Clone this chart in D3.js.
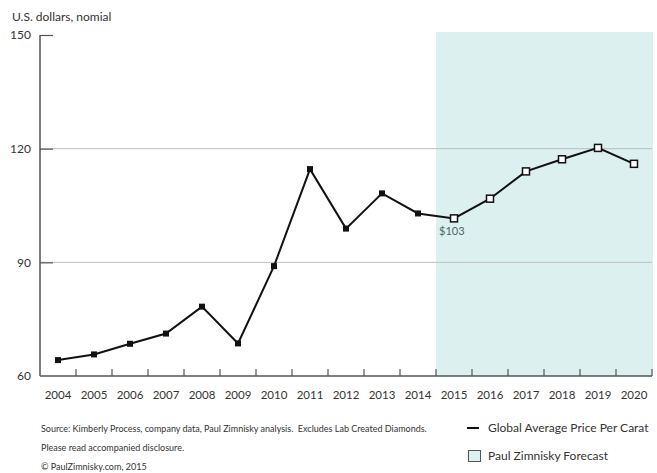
<!DOCTYPE html>
<html><head><meta charset="utf-8">
<script src="https://cdn.jsdelivr.net/npm/d3@7"></script>
<style>body{margin:0;background:#fff}svg{display:block;font-family:Lato,"Open Sans",sans-serif}</style>
</head><body><svg id="c" width="657" height="473"></svg>
<script>
const years = ["2004","2005","2006","2007","2008","2009","2010","2011","2012","2013","2014","2015","2016","2017","2018","2019","2020"];
const prices = [64.2,65.7,68.5,71.2,78.3,68.6,89.0,114.6,98.9,108.2,102.9,101.6,106.8,114.0,117.2,120.2,116.0];
const forecastStart = "2015";
const yTicks = [60,90,120,150];
const gridValues = [90,120];
const annotation = {year:"2015", text:"$103"};

const svg = d3.select("#c");
const L=40,R=652,T=35,B=376;
const x = d3.scaleBand().domain(years).range([L,R]).padding(0);
const y = d3.scaleLinear().domain([60,150]).range([B,T]);
const cx = d=>x(d)+x.bandwidth()/2;

// forecast band
const fi = years.indexOf(forecastStart);
svg.append("rect").attr("x",x(forecastStart)).attr("y",T-3)
  .attr("width",R+1-x(forecastStart)).attr("height",B-T+3).attr("fill","#dcf0f0");

// gridlines
svg.selectAll(".grid").data(gridValues).enter().append("line")
  .attr("x1",L).attr("x2",R).attr("y1",d=>y(d)).attr("y2",d=>y(d))
  .attr("stroke","#bdbdbd").attr("stroke-width",1);

// y axis
const yAxis = d3.axisLeft(y).tickValues(yTicks).tickSize(-13).tickPadding(9).tickFormat(d3.format("d"));
const gy = svg.append("g").attr("transform",`translate(${L},0)`).call(yAxis);
gy.select(".domain").attr("stroke","#555").attr("stroke-width",1.5).attr("d",`M0,${B}V${T}`);
gy.selectAll(".tick line").attr("stroke","#555").attr("stroke-width",1.2);
gy.selectAll(".tick").filter(d=>d===60).select("line").remove();
gy.selectAll("text").attr("font-size",12).attr("fill","#333").attr("font-family","Lato");

// x axis
const xAxis = d3.axisBottom(x).tickSize(0).tickPadding(15);
const gx = svg.append("g").attr("transform",`translate(0,${B})`).call(xAxis);
gx.select(".domain").attr("stroke","#555").attr("stroke-width",1.5).attr("d",`M${L},0H${R}`);
gx.selectAll("text").attr("font-size",11.5).attr("fill","#333").attr("font-family","Lato");
// boundary ticks
svg.selectAll(".xt").data(years).enter().append("line")
  .attr("x1",d=>x(d)+x.bandwidth()).attr("x2",d=>x(d)+x.bandwidth())
  .attr("y1",B).attr("y2",B-7).attr("stroke","#555").attr("stroke-width",1.2);

// line
const data = years.map((yr,i)=>({yr,v:prices[i],f:i>=fi}));
svg.append("path").datum(data)
  .attr("d",d3.line().x(d=>cx(d.yr)).y(d=>y(d.v)))
  .attr("fill","none").attr("stroke","#111").attr("stroke-width",2);

// markers
svg.selectAll(".hm").data(data.filter(d=>!d.f)).enter().append("rect")
  .attr("x",d=>cx(d.yr)-3).attr("y",d=>y(d.v)-3).attr("width",6).attr("height",6).attr("fill","#111");
svg.selectAll(".fm").data(data.filter(d=>d.f)).enter().append("rect")
  .attr("x",d=>cx(d.yr)-3.5).attr("y",d=>y(d.v)-3.5).attr("width",7).attr("height",7)
  .attr("fill","#fff").attr("stroke","#111").attr("stroke-width",1.5);

// annotation
const av = prices[years.indexOf(annotation.year)];
svg.append("text").attr("x",cx(annotation.year)-15).attr("y",y(av)+17)
  .attr("font-size",11).attr("fill","#4d6666").text(annotation.text);

// title
svg.append("text").attr("x",12).attr("y",21).attr("font-size",12).attr("fill","#333").text("U.S. dollars, nomial");

// footer
const foot = ["Source: Kimberly Process, company data, Paul Zimnisky analysis.  Excludes Lab Created Diamonds.",
  "Please read accompanied disclosure.","© PaulZimnisky.com, 2015"];
svg.selectAll(".ft").data(foot).enter().append("text")
  .attr("x",41).attr("y",(d,i)=>432+i*19).attr("font-size",9).attr("fill","#333")
  .attr("xml:space","preserve").style("white-space","pre").text(d=>d);

// legend
svg.append("line").attr("x1",467).attr("x2",479).attr("y1",428).attr("y2",428).attr("stroke","#111").attr("stroke-width",2);
svg.append("text").attr("x",488).attr("y",432).attr("font-size",12).attr("fill","#333").text("Global Average Price Per Carat");
svg.append("rect").attr("x",468.5).attr("y",450.5).attr("width",12).attr("height",11).attr("fill","#dcf0f0").attr("stroke","#555").attr("stroke-width",1);
svg.append("text").attr("x",488).attr("y",460).attr("font-size",12).attr("fill","#333").text("Paul Zimnisky Forecast");
</script></body></html>
